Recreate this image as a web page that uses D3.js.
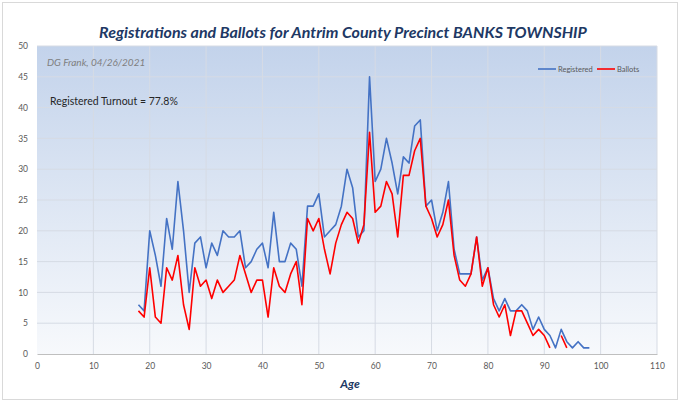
<!DOCTYPE html>
<html>
<head>
<meta charset="utf-8">
<script src="https://cdn.jsdelivr.net/npm/d3@7"></script>
<style>
  body { margin: 0; background: #fff; }
  text { font-family: Lato, "Open Sans", sans-serif; }
</style>
</head>
<body>
<div id="chart"></div>
<script>
// ages 18..98
var ages = d3.range(18, 99);
var registered = [8, 7, 20, 16, 11, 22, 17, 28, 20, 10, 18, 19, 14, 18, 16, 20, 19, 19, 20, 14,
    15, 17, 18, 14, 23, 15, 15, 18, 17, 11, 24, 24, 26, 19, 20, 21, 24, 30, 27, 19,
    20, 45, 28, 30, 35, 31, 26, 32, 31, 37, 38, 24, 25, 20, 23, 28, 17, 13, 13, 13,
    19, 12, 14, 9, 7, 9, 7, 7, 8, 7, 4, 6, 4, 3, 1, 4, 2, 1, 2, 1, 1];
var ballots = [7, 6, 14, 6, 5, 14, 12, 16, 8, 4, 14, 11, 12, 9, 12, 10, 11, 12, 16, 13,
    10, 12, 12, 6, 14, 11, 10, 13, 15, 8, 22, 20, 22, 17, 13, 18, 21, 23, 22, 18,
    21, 36, 23, 24, 28, 26, 19, 29, 29, 33, 35, 24, 22, 19, 21, 25, 16, 12, 11, 13,
    19, 11, 14, 8, 6, 8, 3, 7, 7, 5, 3, 4, 3, 1, null, 3, 1, null, null, null, null];
var xTicks = d3.range(0, 111, 10);
var yTicks = d3.range(0, 51, 5);

var width = 680, height = 405;
var plotLeft = 37, plotRight = 657, plotTop = 46, plotBottom = 354;

var svg = d3.select("#chart").append("svg")
    .attr("width", width)
    .attr("height", height);

svg.append("rect")
    .attr("x", 2.5).attr("y", 2.5)
    .attr("width", width - 5).attr("height", height - 8)
    .attr("fill", "#fff")
    .attr("stroke", "#d9d9d9");

var grad = svg.append("defs").append("linearGradient")
    .attr("id", "bg").attr("x1", 0).attr("y1", 0).attr("x2", 0).attr("y2", 1);
grad.append("stop").attr("offset", "0%").attr("stop-color", "#c3d3eb");
grad.append("stop").attr("offset", "100%").attr("stop-color", "#f7f9fc");

var x = d3.scaleLinear().domain([0, 110]).range([plotLeft, plotRight]);
var y = d3.scaleLinear().domain([0, 50]).range([plotBottom, plotTop]);

svg.append("rect")
    .attr("x", plotLeft).attr("y", plotTop)
    .attr("width", plotRight - plotLeft).attr("height", plotBottom - plotTop)
    .attr("fill", "url(#bg)");

// grid
svg.append("g").selectAll("line").data(yTicks.slice(1)).enter().append("line")
    .attr("x1", plotLeft).attr("x2", plotRight)
    .attr("y1", function (d) { return y(d); })
    .attr("y2", function (d) { return y(d); })
    .attr("stroke", "#d6dbe4").attr("stroke-width", 1);
svg.append("g").selectAll("line").data(xTicks.slice(1)).enter().append("line")
    .attr("y1", plotTop).attr("y2", plotBottom)
    .attr("x1", function (d) { return x(d); })
    .attr("x2", function (d) { return x(d); })
    .attr("stroke", "#d6dbe4").attr("stroke-width", 1);

// axes
var xAxis = svg.append("g")
    .attr("transform", "translate(0," + plotBottom + ")")
    .call(d3.axisBottom(x).tickValues(xTicks).tickSize(0).tickPadding(9));
xAxis.select(".domain").attr("stroke", "#bfbfbf");
xAxis.selectAll("text").attr("fill", "#595959").style("font-size", "8.5px");

var yAxis = svg.append("g")
    .attr("transform", "translate(" + plotLeft + ",0)")
    .call(d3.axisLeft(y).tickValues(yTicks).tickSize(0).tickPadding(9));
yAxis.select(".domain").remove();
yAxis.selectAll("text").attr("fill", "#595959").style("font-size", "8.5px");

// lines
var line = d3.line()
    .defined(function (d) { return d[1] !== null; })
    .x(function (d) { return x(d[0]); })
    .y(function (d) { return y(d[1]); });

svg.append("path")
    .datum(ages.map(function (a, i) { return [a, registered[i]]; }))
    .attr("d", line)
    .attr("fill", "none")
    .attr("stroke", "#4472c4")
    .attr("stroke-width", 1.6)
    .attr("stroke-linejoin", "round");

svg.append("path")
    .datum(ages.map(function (a, i) { return [a, ballots[i]]; }))
    .attr("d", line)
    .attr("fill", "none")
    .attr("stroke", "#ff0000")
    .attr("stroke-width", 1.6)
    .attr("stroke-linejoin", "round");

// texts
svg.append("text")
    .attr("x", 343).attr("y", 38)
    .attr("text-anchor", "middle")
    .attr("fill", "#203864")
    .style("font-size", "16px").style("font-weight", "bold").style("font-style", "italic")
    .text("Registrations and Ballots for Antrim County Precinct BANKS TOWNSHIP");

svg.append("text")
    .attr("x", 47).attr("y", 66)
    .attr("fill", "#7f7f7f")
    .style("font-size", "10px").style("font-style", "italic")
    .text("DG Frank, 04/26/2021");

svg.append("text")
    .attr("x", 50).attr("y", 105)
    .attr("fill", "#262626")
    .style("font-size", "10.5px")
    .text("Registered Turnout = 77.8%");

svg.append("text")
    .attr("x", 350).attr("y", 388)
    .attr("text-anchor", "middle")
    .attr("fill", "#203864")
    .style("font-size", "12px").style("font-weight", "bold").style("font-style", "italic")
    .text("Age");

// legend
var legend = [{ name: "Registered", color: "#4472c4", x: 538 }, { name: "Ballots", color: "#ff0000", x: 597 }];
var lg = svg.append("g").selectAll("g").data(legend).enter().append("g");
lg.append("line")
    .attr("x1", function (d) { return d.x; })
    .attr("x2", function (d) { return d.x + 18; })
    .attr("y1", 69).attr("y2", 69)
    .attr("stroke", function (d) { return d.color; })
    .attr("stroke-width", 1.6);
lg.append("text")
    .attr("x", function (d) { return d.x + 20; })
    .attr("y", 72)
    .attr("fill", "#595959")
    .style("font-size", "7.5px")
    .text(function (d) { return d.name; });
</script>
</body>
</html>
